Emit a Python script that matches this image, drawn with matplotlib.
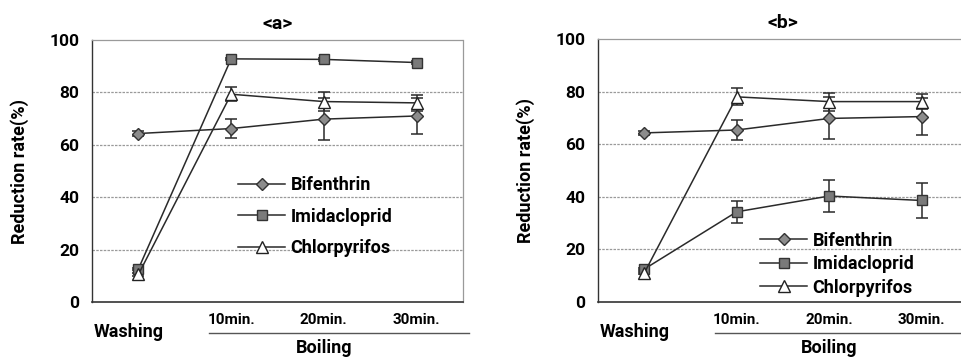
import matplotlib
matplotlib.use("Agg")
import matplotlib.pyplot as plt
import matplotlib.transforms as mtransforms
import numpy as np

plt.rcParams['font.family'] = ['Roboto', 'DejaVu Sans']
plt.rcParams['font.weight'] = 'bold'

categories = ["Washing", "10min.", "20min.", "30min."]
series_names = ["Bifenthrin", "Imidacloprid", "Chlorpyrifos"]
group_label = "Boiling"
panel_titles = ["<a>", "<b>"]
y_ticks = [0, 20, 40, 60, 80, 100]

# panel <a>
a_bifenthrin = [64.3, 66.2, 69.8, 71.0]
a_bifenthrin_err = [0.8, 3.7, 8.0, 7.0]
a_imidacloprid = [12.6, 92.8, 92.6, 91.4]
a_imidacloprid_err = [0.5, 0.5, 0.5, 0.5]
a_chlorpyrifos = [10.5, 79.3, 76.5, 76.0]
a_chlorpyrifos_err = [0.5, 2.6, 3.5, 3.0]

# panel <b>
b_bifenthrin = [64.3, 65.4, 69.8, 70.5]
b_bifenthrin_err = [0.8, 3.7, 8.0, 7.0]
b_imidacloprid = [12.5, 34.3, 40.3, 38.6]
b_imidacloprid_err = [0.5, 4.2, 6.0, 6.5]
b_chlorpyrifos = [11.0, 78.0, 76.2, 76.2]
b_chlorpyrifos_err = [0.5, 3.2, 3.4, 3.0]

panels = [
    (a_bifenthrin, a_bifenthrin_err, a_imidacloprid, a_imidacloprid_err,
     a_chlorpyrifos, a_chlorpyrifos_err),
    (b_bifenthrin, b_bifenthrin_err, b_imidacloprid, b_imidacloprid_err,
     b_chlorpyrifos, b_chlorpyrifos_err),
]

fig = plt.figure(figsize=(9.61, 3.59), dpi=100)
ax_a = fig.add_axes([92/961, 57/359, 371/961, 262/359])
ax_b = fig.add_axes([598/961, 57/359, 370/961, 263/359])
axes = [ax_a, ax_b]

styles = [
    dict(marker='D', markersize=6, markerfacecolor='#8c8c8c', markeredgecolor='#333333'),
    dict(marker='s', markersize=6.5, markerfacecolor='#7a7a7a', markeredgecolor='#333333'),
    dict(marker='^', markersize=8, markerfacecolor='white', markeredgecolor='#222222'),
]

legend_pos = [(0.394, 0.48), (0.438, 0.267)]
legend_spacing = [0.75, 0.3]

x = np.arange(len(categories))
for i, (ax, data) in enumerate(zip(axes, panels)):
    vals = [data[0], data[2], data[4]]
    errs = [data[1], data[3], data[5]]
    handles = []
    for name, v, e, st in zip(series_names, vals, errs, styles):
        h = ax.errorbar(x, v, yerr=e, color='#2a2a2a', linewidth=1.1,
                        elinewidth=1.1, capsize=4, capthick=1.1,
                        label=name, zorder=3, **st)
        handles.append(h)
    ax.set_xlim(-0.5, 3.5)
    ax.set_ylim(0, 100)
    ax.set_yticks(y_ticks)
    ax.set_yticklabels([str(t) for t in y_ticks], fontsize=12.5, fontweight='bold')
    ax.set_xticks([])
    ax.tick_params(axis='y', length=0, pad=9)
    for yv in y_ticks[1:-1]:
        ax.axhline(yv, color='#9a9a9a', linewidth=0.9, linestyle=(0, (2, 1)), zorder=1)
    ax.spines['left'].set_color('#333333')
    ax.spines['bottom'].set_color('#333333')
    ax.spines['left'].set_linewidth(1.0)
    ax.spines['bottom'].set_linewidth(1.2)
    ax.spines['top'].set_color('#9a9a9a')
    ax.spines['top'].set_linestyle((0, (2, 1)))
    ax.spines['right'].set_color('#9a9a9a')
    ax.spines['top'].set_linewidth(0.9)
    ax.spines['right'].set_linewidth(0.9)
    ax.set_ylabel("Reduction rate(%)", fontsize=13, fontweight='bold', labelpad=15)
    ax.set_title(panel_titles[i], fontsize=14, fontweight='bold', pad=8)

    trans = mtransforms.blended_transform_factory(ax.transData, ax.transAxes)
    for xi, cat in zip(x, categories):
        if xi == 0:
            ax.text(xi - 0.1, -0.115, cat, transform=trans, ha='center', va='center',
                    fontsize=13, fontweight='bold')
        else:
            ax.text(xi, -0.07, cat, transform=trans, ha='center', va='center',
                    fontsize=11, fontweight='bold')
    ax.plot([0.76, 3.56], [-0.118, -0.118], transform=trans, color='#555555',
            linewidth=1.0, clip_on=False)
    ax.text(2.0, -0.175, group_label, transform=trans, ha='center', va='center',
            fontsize=13, fontweight='bold')

    leg = ax.legend(handles=[h[0] for h in handles], labels=series_names,
                    loc='upper left', bbox_to_anchor=legend_pos[i],
                    frameon=False, fontsize=13, handlelength=2.6,
                    handletextpad=0.3, borderpad=0, borderaxespad=0,
                    labelspacing=legend_spacing[i])
    for t in leg.get_texts():
        t.set_fontweight('bold')

fig.savefig("out.png", dpi=100)
